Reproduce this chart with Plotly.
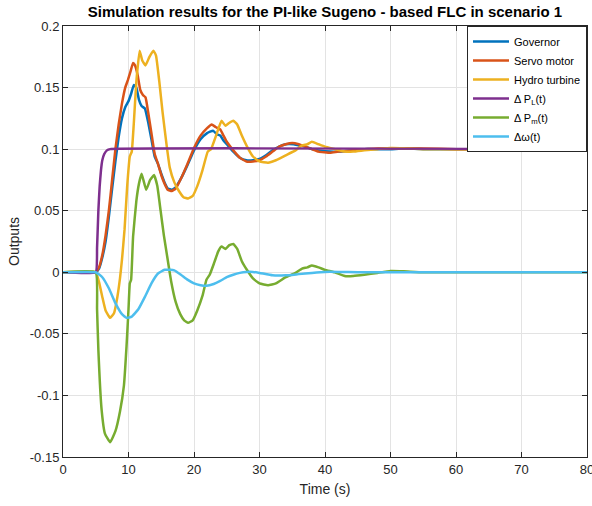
import plotly.graph_objects as go

# ---------------- data ----------------
t_PL = [0, 5, 5.2, 5.4, 5.6, 5.8, 6.0, 6.3, 6.7, 7.2, 80]
v_PL = [0, 0, 0.02, 0.05, 0.07, 0.083, 0.091, 0.096, 0.099, 0.1, 0.1]

t_gov = [0, 5, 5.5, 6, 6.5, 7, 7.5, 8, 8.5, 9, 9.5, 10, 10.4, 10.8, 11.2, 11.6, 12, 12.5, 13, 13.5,
         14, 14.5, 15, 15.5, 16, 16.6, 17.2, 18, 19, 20, 21, 22, 22.9, 23.5, 24, 24.5, 25, 26, 27,
         28, 29, 30, 31, 32, 33, 34, 35.2, 36, 37, 38, 39, 40.8, 42, 44, 46, 48, 50, 52, 55, 80]
v_gov = [0, 0, 0.003, 0.012, 0.025, 0.045, 0.068, 0.09, 0.11, 0.125, 0.134, 0.139, 0.145, 0.152,
         0.15, 0.14, 0.135, 0.133, 0.122, 0.108, 0.094, 0.088, 0.08, 0.073, 0.068, 0.067, 0.069,
         0.076, 0.087, 0.099, 0.108, 0.113, 0.115, 0.112, 0.111, 0.107, 0.104, 0.098, 0.093, 0.091,
         0.091, 0.092, 0.095, 0.099, 0.102, 0.104, 0.104, 0.103, 0.102, 0.1, 0.099, 0.098, 0.098,
         0.099, 0.1, 0.1, 0.1, 0.1005, 0.1, 0.1]

t_servo = [0, 5, 5.5, 6, 6.5, 7, 7.5, 8, 8.5, 9, 9.5, 9.9, 10.3, 10.7, 11, 11.4, 11.8, 12.2, 12.6,
           13, 13.5, 14, 14.5, 15, 15.5, 16, 16.6, 17.2, 18, 19, 20, 21, 22, 22.7, 23.3, 24, 24.5,
           25, 26, 27, 28, 29, 30, 31, 32, 33, 34, 35, 36, 37, 38, 39, 40.8, 42, 44, 46, 50, 55, 60, 80]
v_servo = [0, 0, 0.004, 0.014, 0.03, 0.05, 0.075, 0.1, 0.12, 0.137, 0.15, 0.156, 0.163, 0.17,
           0.168, 0.16, 0.148, 0.144, 0.142, 0.13, 0.113, 0.096, 0.088, 0.079, 0.072, 0.067, 0.066,
           0.068, 0.076, 0.088, 0.101, 0.111, 0.117, 0.12, 0.118, 0.116, 0.111, 0.106, 0.099, 0.093,
           0.09, 0.09, 0.091, 0.094, 0.098, 0.102, 0.104, 0.105, 0.104, 0.102, 0.1, 0.098, 0.097,
           0.098, 0.099, 0.1, 0.1008, 0.1005, 0.1, 0.1]

t_hyd = [0, 5, 5.5, 6, 6.5, 7.2, 7.8, 8.3, 8.7, 9, 9.4, 9.8, 10.2, 10.5, 10.8, 11.2, 11.7, 12.1,
         12.6, 13.2, 13.8, 14.2, 14.7, 15.2, 15.8, 16.3, 17, 17.7, 18.4, 19.1, 19.8, 20.5, 21.3,
         22.1, 22.6, 23.3, 24.2, 24.8, 25.3, 26, 26.6, 27.3, 28.2, 29, 30, 31.3, 32.5, 34, 35.5,
         36.5, 37.3, 38, 39, 40, 41.5, 43, 44.3, 46, 48, 50, 52, 55, 80]
v_hyd = [0, 0, -0.008, -0.02, -0.031, -0.037, -0.033, -0.02, -0.005, 0.01, 0.035, 0.07, 0.094,
         0.098, 0.12, 0.155, 0.18, 0.172, 0.168, 0.175, 0.18, 0.176, 0.155, 0.13, 0.104, 0.085,
         0.073, 0.066, 0.061, 0.06, 0.062, 0.07, 0.083, 0.098, 0.1, 0.11, 0.123, 0.119, 0.121,
         0.123, 0.12, 0.111, 0.101, 0.094, 0.09, 0.089, 0.091, 0.095, 0.099, 0.103, 0.104, 0.106,
         0.104, 0.102, 0.1, 0.098, 0.098, 0.099, 0.1, 0.101, 0.1008, 0.1, 0.1]

t_Pm = [0, 5, 5.2, 5.4, 5.9, 6.4, 7.2, 8.0, 8.7, 9.3, 9.7, 10.0, 10.2, 10.4, 10.7, 11.2, 11.6, 12.0,
        12.7, 13.3, 13.9, 14.4, 14.9, 15.4, 15.9, 16.5, 17.2, 17.9, 18.5, 19.1, 19.8, 20.5, 21.3,
        21.9, 22.4, 23.1, 23.7, 24.2, 24.8, 25.4, 26, 26.6, 27.3, 28.2, 29, 30, 31.3, 32.5, 34,
        35.5, 36.5, 37.3, 38, 39, 40, 41.5, 43, 44.3, 46, 48, 50, 52, 55, 80]
v_Pm = [0, 0, -0.03, -0.063, -0.112, -0.131, -0.138, -0.129, -0.113, -0.092, -0.06, -0.03, -0.009,
        -0.006, 0.029, 0.058, 0.072, 0.08, 0.067, 0.075, 0.079, 0.07, 0.05, 0.03, 0.013, -0.007,
        -0.024, -0.034, -0.039, -0.041, -0.039, -0.031, -0.019, -0.006, -0.002, 0.008, 0.017,
        0.021, 0.019, 0.022, 0.023, 0.019, 0.009, 0.001, -0.005, -0.009, -0.0105, -0.009, -0.004,
        -0.0005, 0.003, 0.004, 0.0055, 0.004, 0.002, 0, -0.003, -0.003, -0.002, -0.0005, 0.001,
        0.0008, 0, 0]

t_w = [0, 5, 6, 7, 8, 9, 9.7, 10.5, 11.5, 12.5, 13.5, 14.5, 15.5, 16.3, 17, 18, 19, 20, 21, 21.9,
       23, 24, 25, 26, 27, 28, 29, 30, 32, 34, 36, 38, 40, 42, 45, 80]
v_w = [0, 0, -0.004, -0.013, -0.025, -0.034, -0.037, -0.036, -0.03, -0.02, -0.009, -0.001, 0.002,
       0.002, 0.0015, -0.002, -0.006, -0.009, -0.0105, -0.011, -0.0095, -0.007, -0.004, -0.002,
       -0.0005, 0.0003, 0.0003, -0.0005, -0.0025, -0.0025, -0.0015, -0.0005, 0.0003, 0.0003, 0, 0]

y_tickvals = [0.2, 0.15, 0.1, 0.05, 0, -0.05, -0.1, -0.15]
y_ticktext = ["0.2", "0.15", "0.1", "0.05", "0", "-0.05", "-0.1", "-0.15"]
x_tickvals = [0, 10, 20, 30, 40, 50, 60, 70, 80]
x_ticktext = ["0", "10", "20", "30", "40", "50", "60", "70", "80"]

series = [
    ("Governor", t_gov, v_gov, "#0072BD"),
    ("Servo motor", t_servo, v_servo, "#D95319"),
    ("Hydro turbine", t_hyd, v_hyd, "#EDB120"),
    ("Δ P<sub>L</sub>(t)", t_PL, v_PL, "#7E2F8E"),
    ("Δ P<sub>m</sub>(t)", t_Pm, v_Pm, "#77AC30"),
    ("Δω(t)", t_w, v_w, "#4DBEEE"),
]

FONT = "Liberation Sans, Arial, sans-serif"

fig = go.Figure()
for name, t, v, c in series:
    fig.add_trace(go.Scatter(x=t, y=v, mode="lines", name=name,
                             line=dict(color=c, width=2.5, shape="spline", smoothing=0.35)))

axis_common = dict(showgrid=True, gridcolor="#e3e3e3", gridwidth=1, zeroline=False,
                   showline=True, linecolor="#262626", linewidth=1, mirror="ticks",
                   ticks="inside", ticklen=5, tickcolor="#262626",
                   ticklabeloverflow="allow",
                   tickfont=dict(family=FONT, size=13, color="#262626"))

fig.update_xaxes(range=[0, 80], tickvals=x_tickvals, ticktext=x_ticktext, **axis_common,
                 title=dict(text="Time (s)", font=dict(family=FONT, size=14, color="#262626"),
                            standoff=8))
fig.update_yaxes(range=[-0.15, 0.2], tickvals=y_tickvals, ticktext=y_ticktext, **axis_common,
                 title=dict(text="Outputs", font=dict(family=FONT, size=14, color="#262626"),
                            standoff=6))

fig.update_layout(
    width=592, height=506,
    margin=dict(l=63, r=5, t=26, b=49, autoexpand=False),
    paper_bgcolor="white", plot_bgcolor="white",
    title=dict(text="<b>Simulation results for the PI-like Sugeno - based FLC in scenario 1</b>",
               xref="paper", x=0.5, xanchor="center", y=0.988, yanchor="top",
               font=dict(family=FONT, size=15, color="black")),
    legend=dict(x=1, xanchor="right", y=1, yanchor="top", bgcolor="white",
                bordercolor="#262626", borderwidth=1,
                font=dict(family=FONT, size=11, color="black"),
                tracegroupgap=0, itemwidth=36),
    showlegend=True,
)

fig.write_html("out.html")
